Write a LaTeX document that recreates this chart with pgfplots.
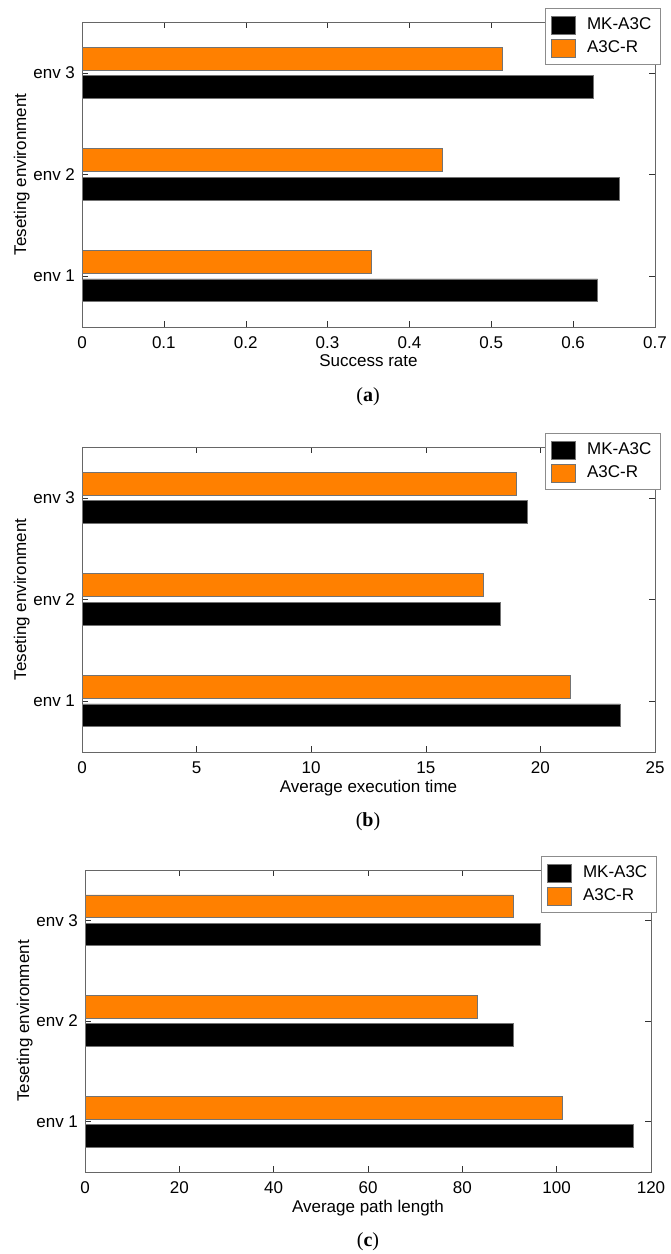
\documentclass[border=0pt]{standalone}
\usepackage{fontspec}
\setmainfont{Liberation Sans}
\newfontfamily\capfont{Liberation Serif}
\usepackage{pgfplots}
\usepackage{pgfplotstable}
\pgfplotsset{compat=1.18}

\definecolor{barorange}{RGB}{255,128,0}

% env, MK-A3C, A3C-R
\pgfplotstableread{
env mk a3cr
1 0.630 0.354
2 0.656 0.440
3 0.625 0.513
}\tablea
\pgfplotstableread{
env mk a3cr
1 23.48 21.29
2 18.26 17.50
3 19.45 18.96
}\tableb
\pgfplotstableread{
env mk a3cr
1 116.3 101.3
2 90.8 83.2
3 96.6 90.8
}\tablec

\pgfplotsset{
  envbars/.style={
    scale only axis,
    width=286.5pt, height=152.5pt,
    xbar, bar width=0.225,
    xmin=0, ymin=0.5, ymax=3.5,
    ytick={1,2,3}, yticklabels={env 1,env 2,env 3},
    ylabel={Teseting environment},
    ylabel style={yshift=-5pt},
    xticklabel style={yshift=-1.5pt},
    xlabel style={yshift=4pt},
    tick align=inside, major tick length=3pt,
    axis line style={black!60}, tick style={black!80},
    font=\fontsize{8.5}{10}\selectfont,
    /pgf/number format/assume math mode=true,
    legend style={at={(1.01,1.045)}, anchor=north east, draw=black!45,
      font=\fontsize{8.5}{10}\selectfont, row sep=0pt, inner sep=2.5pt},
    legend image code/.code={\fill[##1] (0pt,-4.5pt) rectangle (12pt,4.5pt);
      \path[draw=none, fill=none] (0pt,0pt) -- (16pt,0pt);},
    legend cell align=left,
  },
  mkbar/.style={fill=black, draw=black!55, bar shift=-0.14},
  rbar/.style={fill=barorange, draw=black!55, bar shift=0.14},
}

\begin{document}
\begin{tikzpicture}
\path[use as bounding box] (0,0) rectangle (335pt,-627pt);

\begin{axis}[envbars, at={(41pt,-11pt)}, anchor=north west,
    xmax=0.7, xtick={0,0.1,0.2,0.3,0.4,0.5,0.6,0.7},
    xlabel={Success rate}]
\addplot[mkbar] table[x=mk, y=env] {\tablea};
\addplot[rbar] table[x=a3cr, y=env] {\tablea};
\legend{MK-A3C, A3C-R}
\end{axis}
\node[font=\capfont\fontsize{10}{12}\selectfont] at (184pt,-198.5pt) {(\textbf{a})};

\begin{axis}[envbars, at={(41pt,-223.5pt)}, anchor=north west,
    xmax=25, xtick={0,5,10,15,20,25},
    xlabel={Average execution time}]
\addplot[mkbar] table[x=mk, y=env] {\tableb};
\addplot[rbar] table[x=a3cr, y=env] {\tableb};
\legend{MK-A3C, A3C-R}
\end{axis}
\node[font=\capfont\fontsize{10}{12}\selectfont] at (184pt,-411pt) {(\textbf{b})};

\begin{axis}[envbars, at={(42.5pt,-435pt)}, anchor=north west,
    width=283pt, height=151pt,
    xmax=120, xtick={0,20,40,60,80,100,120},
    xlabel={Average path length}]
\addplot[mkbar] table[x=mk, y=env] {\tablec};
\addplot[rbar] table[x=a3cr, y=env] {\tablec};
\legend{MK-A3C, A3C-R}
\end{axis}
\node[font=\capfont\fontsize{10}{12}\selectfont] at (184pt,-621pt) {(\textbf{c})};
\end{tikzpicture}
\end{document}
